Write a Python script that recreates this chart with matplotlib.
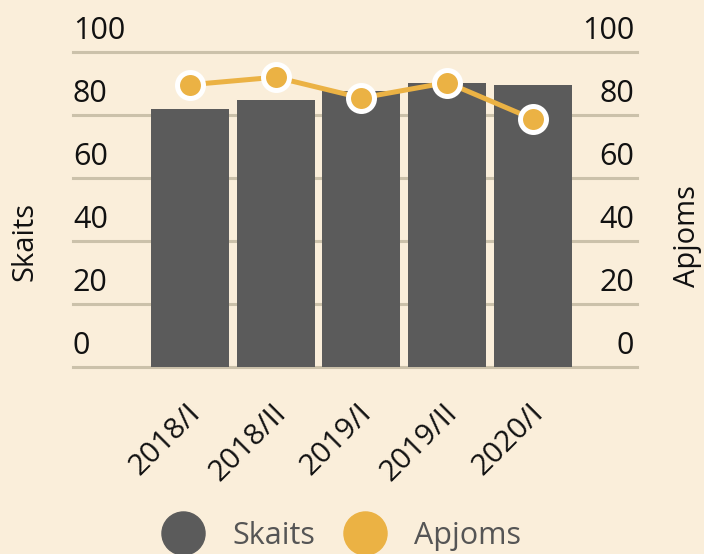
import matplotlib.pyplot as plt
from matplotlib.lines import Line2D
import matplotlib.transforms as mtransforms

plt.rcParams['font.family'] = ['Open Sans', 'DejaVu Sans']

# dati
periodi = ['2018/I', '2018/II', '2019/I', '2019/II', '2020/I']
skaits = [82.0, 84.6, 87.5, 90.2, 89.6]
apjoms = [89.6, 92.0, 85.4, 90.3, 78.7]
y_ticks = [0, 20, 40, 60, 80, 100]

bg = '#FAEEDA'
bar_col = '#5B5B5B'
line_col = '#EBB244'
grid_col = '#CBC1AA'

fig = plt.figure(figsize=(7.04, 5.54), dpi=100, facecolor=bg)
ax = fig.add_axes([73 / 704, 1 - 366.7 / 554, 564 / 704, 314.7 / 554])
ax.set_facecolor(bg)
ax2 = ax.twinx()

x = list(range(len(periodi)))
ax.bar(x, skaits, width=0.91, color=bar_col, zorder=2)
ax2.plot(x, apjoms, color=line_col, lw=3.6, marker='o', markersize=18.7,
         markerfacecolor=line_col, markeredgecolor='white', markeredgewidth=3.6,
         zorder=3, clip_on=False)

for a in (ax, ax2):
    a.set_ylim(0, 100)
    a.set_xlim(-1.364, 5.213)
    for s in a.spines.values():
        s.set_visible(False)
    a.set_yticks([])

for v in y_ticks:
    ax.axhline(v, color=grid_col, lw=2.2, zorder=1, clip_on=False)

# tick labels above the gridlines
tr = ax.get_yaxis_transform()
off = mtransforms.offset_copy(tr, fig=fig, x=0, y=6, units='dots')
for v in y_ticks:
    ax.text(0, v, str(v), transform=off, ha='left', va='bottom', fontsize=22, color='#111111')
    ax.text(0.995, v, str(v), transform=off, ha='right', va='bottom', fontsize=22, color='#111111')

ax.set_xticks(x)
ax.set_xticklabels(periodi, rotation=45, ha='right', va='center', rotation_mode='anchor',
                   fontsize=21.5, color='#111111')
ax.tick_params(axis='x', length=0, pad=30)
ax2.tick_params(axis='x', length=0)
shift = mtransforms.ScaledTranslation(6 / 100, 0, fig.dpi_scale_trans)
for lbl in ax.get_xticklabels():
    lbl.set_transform(lbl.get_transform() + shift)

fig.text(25 / 704, 1 - 241.5 / 554, 'Skaits', rotation=90, ha='center', va='center',
         fontsize=21, color='#111111')
fig.text(688 / 704, 1 - 236 / 554, 'Apjoms', rotation=90, ha='center', va='center',
         fontsize=21, color='#111111')

handles = [
    Line2D([], [], ls='none', marker='o', markersize=31, color=bar_col),
    Line2D([], [], ls='none', marker='o', markersize=31, color=line_col),
]
fig.legend(handles, ['Skaits', 'Apjoms'], loc='center', bbox_to_anchor=(0.4786, 1 - 536 / 554),
           ncol=2, frameon=False, fontsize=22, labelcolor='#555555',
           handletextpad=0.6, columnspacing=0.64)

fig.savefig('out.png', dpi=100, facecolor=bg)
